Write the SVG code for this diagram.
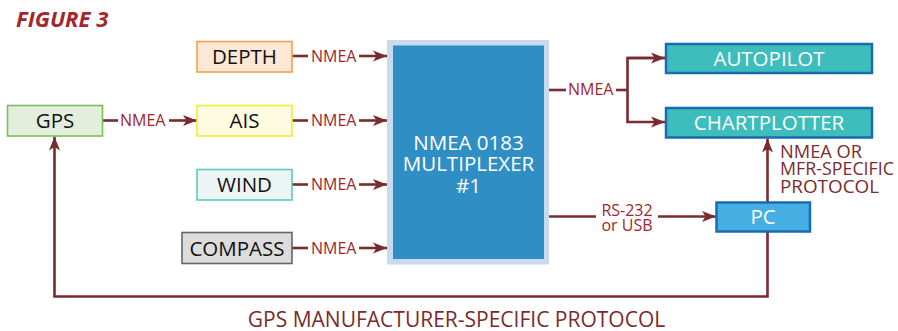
<svg xmlns="http://www.w3.org/2000/svg" width="898" height="331" viewBox="0 0 898 331">
<defs>
<marker id="arr" markerUnits="userSpaceOnUse" markerWidth="16" markerHeight="12" refX="14" refY="6" orient="auto">
<path d="M0,0.5 L14,6 L0,11.5 L3.5,6 z" fill="#7a2b2d"/>
</marker>
<style>
text{font-family:"Open Sans",Lato,sans-serif;}
.lbl{font-size:16px;fill:#a2252c;}
.lbl2{font-size:18px;fill:#7a2b2d;}
.nt{font-size:20.5px;fill:#111;text-anchor:middle;}
.wt{font-size:20.5px;fill:#fff;text-anchor:middle;}
.ln{fill:none;stroke:#7a2b2d;stroke-width:2.6;}
.tb{fill:#3dbdbb;stroke:#1a6bb0;stroke-width:2.5;}
</style>
</defs>
<rect width="898" height="331" fill="#fff"/>
<text x="16" y="26.5" font-size="22" font-weight="bold" font-style="italic" fill="#a3262a">FIGURE 3</text>

<g id="connectors">
<path class="ln" d="M292,56 H308"/><path class="ln" d="M359,56 H387" marker-end="url(#arr)"/>
<path class="ln" d="M292,120.5 H308"/><path class="ln" d="M359,120.5 H387" marker-end="url(#arr)"/>
<path class="ln" d="M292,184.5 H308"/><path class="ln" d="M359,184.5 H387" marker-end="url(#arr)"/>
<path class="ln" d="M292,248 H308"/><path class="ln" d="M359,248 H387" marker-end="url(#arr)"/>
<path class="ln" d="M102,120.5 H118"/><path class="ln" d="M169,120.5 H197" marker-end="url(#arr)"/>
<path class="ln" d="M549,90 H566"/><path class="ln" d="M616,90 H627.5"/>
<path class="ln" d="M665,58 H627.5 V122 H665" marker-end="url(#arr)"/>
<path class="ln" d="M627.5,58 H665" marker-end="url(#arr)"/>
<path class="ln" d="M549,216.5 H596"/><path class="ln" d="M658,216.5 H716" marker-end="url(#arr)"/>
<path class="ln" d="M767.5,202 V138.5" marker-end="url(#arr)"/>
<path class="ln" d="M767.5,232 V296.5 H54.5 V136.5" marker-end="url(#arr)"/>
<text class="lbl" x="311" y="61.5">NMEA</text>
<text class="lbl" x="311" y="126">NMEA</text>
<text class="lbl" x="311" y="190">NMEA</text>
<text class="lbl" x="311" y="253.5">NMEA</text>
<text class="lbl" x="120" y="126">NMEA</text>
<text class="lbl" x="568" y="94.5">NMEA</text>
<text class="lbl" x="627" y="215.5" text-anchor="middle">RS-232</text>
<text class="lbl" x="627" y="231" text-anchor="middle">or USB</text>
<text class="lbl2" x="780" y="157.5" textLength="82" lengthAdjust="spacingAndGlyphs">NMEA OR</text>
<text class="lbl2" x="780" y="175" textLength="114" lengthAdjust="spacingAndGlyphs">MFR-SPECIFIC</text>
<text class="lbl2" x="780" y="192.5" textLength="99" lengthAdjust="spacingAndGlyphs">PROTOCOL</text>
<text x="456.5" y="326.5" text-anchor="middle" font-size="21" fill="#7a2b2d">GPS MANUFACTURER-SPECIFIC PROTOCOL</text>
</g>

<g id="gps"><rect x="7.5" y="105.5" width="95" height="30.5" fill="#e3efdc" stroke="#7ac05a" stroke-width="1.6"/><text class="nt" x="55" y="127.5">GPS</text></g>
<g id="depth"><rect x="197" y="41.5" width="95" height="30.5" fill="#fde8d6" stroke="#f3a14f" stroke-width="1.6"/><text class="nt" x="244.5" y="64">DEPTH</text></g>
<g id="ais"><rect x="197" y="105.5" width="95" height="30.5" fill="#fefbe1" stroke="#f4ec33" stroke-width="1.6"/><text class="nt" x="244.5" y="128">AIS</text></g>
<g id="wind"><rect x="197" y="169.5" width="95" height="30.5" fill="#ebf5f3" stroke="#5cc9c4" stroke-width="1.6"/><text class="nt" x="244.5" y="192">WIND</text></g>
<g id="compass"><rect x="182" y="232.5" width="110" height="31" fill="#dcdcdc" stroke="#5d6b66" stroke-width="1.6"/><text class="nt" x="237" y="255.5">COMPASS</text></g>

<g id="mux">
<rect x="387" y="40" width="162" height="224.5" fill="#c9dbee"/>
<rect x="393" y="45.5" width="151" height="213.5" fill="#2f8fc4"/>
<text class="wt" x="468.5" y="149.5" font-size="19.5">NMEA 0183</text>
<text class="wt" x="468.5" y="171" font-size="19.5">MULTIPLEXER</text>
<text class="wt" x="468.5" y="192.5" font-size="19.5">#1</text>
</g>

<g id="autopilot"><rect class="tb" x="666" y="44" width="206" height="29"/><text class="wt" x="769" y="66" font-size="21">AUTOPILOT</text></g>
<g id="chartplotter"><rect class="tb" x="666" y="108" width="206" height="29.5"/><text class="wt" x="769" y="130" font-size="21">CHARTPLOTTER</text></g>
<g id="pc"><rect x="716.5" y="202.5" width="93.5" height="29" fill="#45aee3" stroke="#1a6bb0" stroke-width="2.5"/><text class="wt" x="763" y="224" font-size="21">PC</text></g>
</svg>
